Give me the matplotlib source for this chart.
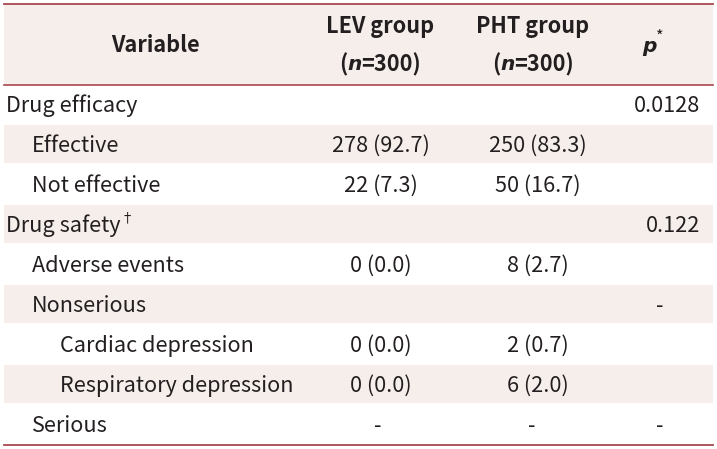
import matplotlib
matplotlib.use("Agg")
import matplotlib.pyplot as plt
from matplotlib.patches import Rectangle

# table content
labels = ["Drug efficacy", "Effective", "Not effective", "Drug safety", "Adverse events",
          "Nonserious", "Cardiac depression", "Respiratory depression", "Serious"]
levels = [0, 1, 1, 0, 1, 1, 2, 2, 1]
marks = ["", "", "", "\u2020", "", "", "", "", ""]
lev = ["", "278 (92.7)", "22 (7.3)", "", "0 (0.0)", "", "0 (0.0)", "0 (0.0)", "-"]
pht = ["", "250 (83.3)", "50 (16.7)", "", "8 (2.7)", "", "2 (0.7)", "6 (2.0)", "-"]
pval = ["0.0128", "", "", "0.122", "", "-", "", "", "-"]

FONT = "Noto Sans CJK KR"
ITAL = "DejaVu Sans"
FS = 15.6
TXT = "#231f20"
SHADE = "#f6eeea"
LINE = "#a9484f"

fig = plt.figure(figsize=(7.17, 4.49), dpi=100)
ax = fig.add_axes([0, 0, 1, 1])
ax.set_xlim(0, 717)
ax.set_ylim(449, 0)
ax.axis("off")

left, right = 4, 713
top, head_bot, row_h = 4, 85, 40

ax.add_patch(Rectangle((left, top), right - left, head_bot - top, color=SHADE, lw=0))
for i in range(len(labels)):
    y0 = head_bot + i * row_h
    if i % 2 == 1:
        ax.add_patch(Rectangle((left, y0), right - left, row_h - 2, color=SHADE, lw=0))

ax.plot([left, right], [top, top], color=LINE, lw=1.3)
ax.plot([left, right], [head_bot, head_bot], color=LINE, lw=1.2)
bottom = head_bot + len(labels) * row_h
ax.plot([left, right], [bottom, bottom], color=LINE, lw=1.3)

fig.canvas.draw()
rend = fig.canvas.get_renderer()


def runs(x, y, parts, ha="center", size=FS):
    # parts: list of (text, weight, style)
    objs = []
    for s, w, st in parts:
        if st == "italic":
            objs.append(ax.text(0, y, s, fontsize=size * 0.93, fontweight=w,
                                fontstyle="oblique", family=ITAL, color=TXT, va="center"))
        else:
            objs.append(ax.text(0, y, s, fontsize=size, fontweight=w,
                                family=FONT, color=TXT, va="center"))
    widths = [o.get_window_extent(rend).width for o in objs]
    total = sum(widths)
    if ha == "center":
        cur = x - total / 2
    elif ha == "right":
        cur = x - total
    else:
        cur = x
    for o, w in zip(objs, widths):
        o.set_x(cur)
        cur += w
    return cur


def sup(x, y, s, dx=0, scale=0.62):
    ax.text(x + dx, y - 8, s, fontsize=FS * scale, family=FONT, color=TXT, va="center")


# header
runs(155, 45, [("Variable", "bold", "normal")])
runs(380, 27, [("LEV group", "bold", "normal")])
runs(380, 65, [("(", "bold", "normal"), ("n", "bold", "italic"), ("=300)", "bold", "normal")])
runs(533, 27, [("PHT group", "bold", "normal")])
runs(533, 65, [("(", "bold", "normal"), ("n", "bold", "italic"), ("=300)", "bold", "normal")])
end = runs(649, 46, [("p", "bold", "italic")])
sup(end, 45, "*", dx=0, scale=0.75)

indent = {0: 6, 1: 32, 2: 60}
for i, lab in enumerate(labels):
    yc = head_bot + i * row_h + 21
    end = runs(indent[levels[i]], yc, [(lab, "normal", "normal")], ha="left")
    if marks[i]:
        sup(end, yc, marks[i], dx=0.5)
    if lev[i]:
        runs(381 if lev[i] != "-" else 378, yc, [(lev[i], "normal", "normal")])
    if pht[i]:
        runs(538 if pht[i] != "-" else 532, yc, [(pht[i], "normal", "normal")])
    if pval[i]:
        if pval[i] == "-":
            runs(660, yc, [(pval[i], "normal", "normal")])
        else:
            runs(700, yc, [(pval[i], "normal", "normal")], ha="right")

fig.savefig("out.png", dpi=100)
